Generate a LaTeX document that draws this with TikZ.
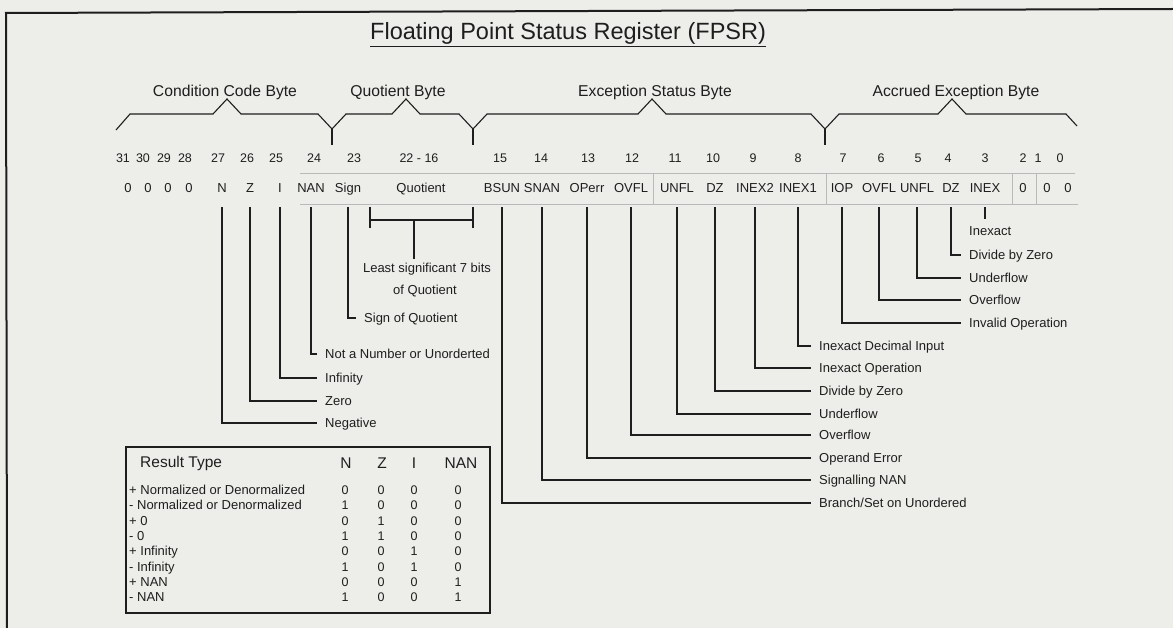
\documentclass[tikz,border=0pt]{standalone}
\usepackage{fontspec}
\setmainfont{Liberation Sans}
\definecolor{bg}{RGB}{237,237,233}
\definecolor{ink}{RGB}{30,30,30}
\definecolor{gridc}{RGB}{185,185,185}
\begin{document}
\begin{tikzpicture}[x=1pt,y=-1pt,
  num/.style={font=\fontsize{12.5}{14}\selectfont, inner sep=0pt, text=ink},
  fld/.style={font=\fontsize{13}{15}\selectfont, inner xsep=0pt, inner ysep=0pt, minimum height=38pt, text height=9.3pt, text depth=0pt, text=ink},
  lbl/.style={font=\fontsize{13}{15}\selectfont, anchor=west, inner xsep=8pt, inner ysep=0pt, text height=9.3pt, text depth=0pt, text=ink},
  bytelbl/.style={font=\fontsize{15.7}{18}\selectfont, inner sep=0pt, text=ink},
  lead/.style={draw=ink, line width=1.1pt},
  cell/.style={font=\fontsize{12.5}{14}\selectfont, inner sep=0pt, text height=9pt, text depth=0pt, text=ink},
  rowlbl/.style={font=\fontsize{13}{15}\selectfont, anchor=west, inner sep=0pt, text height=9.3pt, text depth=0pt, text=ink}]
\useasboundingbox (0,0) rectangle (1173,628);
\fill[bg] (0,0) rectangle (1173,628);
% frame
\draw[ink, line width=2pt] (1173,9) -- (6,13) -- (7,628);
% title
\node[font=\fontsize{23.5}{26}\selectfont, anchor=base west, inner sep=0pt, text=ink] (title) at (370,40) {\underline{Floating Point Status Register (FPSR)}};
% byte labels
\node[bytelbl] (ccb) at (225,92) {Condition Code Byte};
\node[bytelbl] (qb) at (398,92) {Quotient Byte};
\node[bytelbl] (esb) at (655,92) {Exception Status Byte};
\node[bytelbl] (aeb) at (956,92) {Accrued Exception Byte};
% braces
\draw[ink, line width=1.1pt] (116,130) -- (130,114) -- (213,114) -- (227,99) -- (241,114) -- (318,114) -- (332,129) -- (346,114) -- (392,114) -- (406,99) -- (420,114) -- (459,114) -- (473,129) -- (487,114) -- (638,114) -- (652,99) -- (666,114) -- (811,114) -- (825,129) -- (839,114) -- (938,114) -- (952,99) -- (966,114) -- (1066,114) -- (1077,126);
\coordinate (v1) at (332,129); \coordinate (v2) at (473,129); \coordinate (v3) at (825,129);
\draw[ink, line width=1.1pt] (v1) -- ++(0,16) (v2) -- ++(0,16) (v3) -- ++(0,16);
% register grid (faint)
\draw[gridc, line width=0.8pt] (300,173) -- (1075,173) (300,204) -- (1078,204);
\draw[gridc, line width=0.8pt] (653,173) -- (653,204) (826,173) -- (826,204) (1012,173) -- (1012,204) (1036,173) -- (1036,204);
% bit numbers
\foreach \t/\x in {31/123,30/143,29/164,28/185,27/218,26/247,25/276,24/314,23/354,22 - 16/419,15/500,14/541,13/588,12/632,11/675,10/713,9/753,8/798,7/843,6/881,5/918,4/948,3/985,2/1023,1/1038,0/1060}
  \node[num] (b\x) at (\x,158) {\t};
% field names
\node[fld] (z31) at (128,188) {0};
\node[fld] (z30) at (148,188) {0};
\node[fld] (z29) at (168,188) {0};
\node[fld] (z28) at (189,188) {0};
\node[fld] (fN) at (222,188) {N};
\node[fld] (fZ) at (250,188) {Z};
\node[fld] (fI) at (280,188) {I};
\node[fld] (fNAN) at (311,188) {NAN};
\node[fld] (fSign) at (348,188) {Sign};
\node[fld] (fQuot) at (421,188) {Quotient};
\node[fld] (fBSUN) at (502,188) {BSUN};
\node[fld] (fSNAN) at (542,188) {SNAN};
\node[fld] (fOPerr) at (587,188) {OPerr};
\node[fld] (fOVFLe) at (631,188) {OVFL};
\node[fld] (fUNFLe) at (677,188) {UNFL};
\node[fld] (fDZe) at (715,188) {DZ};
\node[fld] (fINEXii) at (755,188) {INEX2};
\node[fld] (fINEXi) at (798,188) {INEX1};
\node[fld] (fIOP) at (842,188) {IOP};
\node[fld] (fOVFLa) at (879,188) {OVFL};
\node[fld] (fUNFLa) at (917,188) {UNFL};
\node[fld] (fDZa) at (951,188) {DZ};
\node[fld] (fINEX) at (985,188) {INEX};
\node[fld] (z2) at (1023,188) {0};
\node[fld] (z1) at (1047,188) {0};
\node[fld] (z0) at (1068,188) {0};
% quotient bracket
\coordinate (qL) at (370,220); \coordinate (qR) at (473,220); \coordinate (qS) at (414,220);
\draw[lead] (370,207) -- (370,228) (473,207) -- (473,228) (qL) -- (qR);
\node[font=\fontsize{13}{15}\selectfont, inner sep=0pt, text=ink, align=center] (lLeast) at (427,269) {Least significant 7 bits};
\node[font=\fontsize{13}{15}\selectfont, inner sep=0pt, text=ink] (lOfQ) at (425,291) {of Quotient};
\draw[lead] (qS) -- (qS |- 0,259);
% left labels
\node[lbl] (lSign) at (356,318) {Sign of Quotient};
\node[lbl] (lNAN) at (317,354) {Not a Number or Unorderted};
\node[lbl] (lInf) at (317,378) {Infinity};
\node[lbl] (lZero) at (317,401) {Zero};
\node[lbl] (lNeg) at (317,423) {Negative};
\draw[lead] (fSign.south) |- (lSign.west);
\draw[lead] (fNAN.south) |- (lNAN.west);
\draw[lead] (fI.south) |- (lInf.west);
\draw[lead] (fZ.south) |- (lZero.west);
\draw[lead] (fN.south) |- (lNeg.west);
% accrued labels
\node[lbl] (lInexact) at (961,231) {Inexact};
\draw[lead] (fINEX.south) -- ++(0,12);
\node[lbl] (lDZa) at (961,255) {Divide by Zero};
\node[lbl] (lUNFLa) at (961,278) {Underflow};
\node[lbl] (lOVFLa) at (961,300) {Overflow};
\node[lbl] (lIOP) at (961,323) {Invalid Operation};
\draw[lead] (fDZa.south) |- (lDZa.west);
\draw[lead] (fUNFLa.south) |- (lUNFLa.west);
\draw[lead] (fOVFLa.south) |- (lOVFLa.west);
\draw[lead] (fIOP.south) |- (lIOP.west);
% exception labels
\node[lbl] (lINEXi) at (811,346) {Inexact Decimal Input};
\node[lbl] (lINEXii) at (811,368) {Inexact Operation};
\node[lbl] (lDZe) at (811,391) {Divide by Zero};
\node[lbl] (lUNFLe) at (811,414) {Underflow};
\node[lbl] (lOVFLe) at (811,435) {Overflow};
\node[lbl] (lOPerr) at (811,458) {Operand Error};
\node[lbl] (lSNAN) at (811,480) {Signalling NAN};
\node[lbl] (lBSUN) at (811,503) {Branch/Set on Unordered};
\draw[lead] (fINEXi.south) |- (lINEXi.west);
\draw[lead] (fINEXii.south) |- (lINEXii.west);
\draw[lead] (fDZe.south) |- (lDZe.west);
\draw[lead] (fUNFLe.south) |- (lUNFLe.west);
\draw[lead] (fOVFLe.south) |- (lOVFLe.west);
\draw[lead] (fOPerr.south) |- (lOPerr.west);
\draw[lead] (fSNAN.south) |- (lSNAN.west);
\draw[lead] (fBSUN.south) |- (lBSUN.west);
% result type table
\node[draw=ink, line width=1.2pt, minimum width=364pt, minimum height=166pt, inner sep=0pt] (rt) at (308,530) {};
\node[font=\fontsize{15.5}{18}\selectfont, anchor=west, inner sep=0pt, text=ink] (hRT) at (140,463) {Result Type};
\node[font=\fontsize{15.5}{18}\selectfont, inner sep=0pt, text=ink] (hN) at (346,463) {N};
\node[font=\fontsize{15.5}{18}\selectfont, inner sep=0pt, text=ink] (hZ) at (382,463) {Z};
\node[font=\fontsize{15.5}{18}\selectfont, inner sep=0pt, text=ink] (hI) at (414,463) {I};
\node[font=\fontsize{15.5}{18}\selectfont, inner sep=0pt, text=ink] (hNAN) at (461,463) {NAN};
\foreach \r/\lab/\n/\z/\i/\q in {0/+ Normalized or Denormalized/0/0/0/0, 1/- Normalized or Denormalized/1/0/0/0, 2/+ 0/0/1/0/0, 3/- 0/1/1/0/0, 4/+ Infinity/0/0/1/0, 5/- Infinity/1/0/1/0, 6/+ NAN/0/0/0/1, 7/- NAN/1/0/0/1} {
  \node[rowlbl] (r\r) at (129,490+15.3*\r) {\lab};
  \node[cell] (rn\r) at (345,490+15.3*\r) {\n};
  \node[cell] (rz\r) at (381,490+15.3*\r) {\z};
  \node[cell] (ri\r) at (414,490+15.3*\r) {\i};
  \node[cell] (rq\r) at (458,490+15.3*\r) {\q};
}
\end{tikzpicture}
\end{document}
